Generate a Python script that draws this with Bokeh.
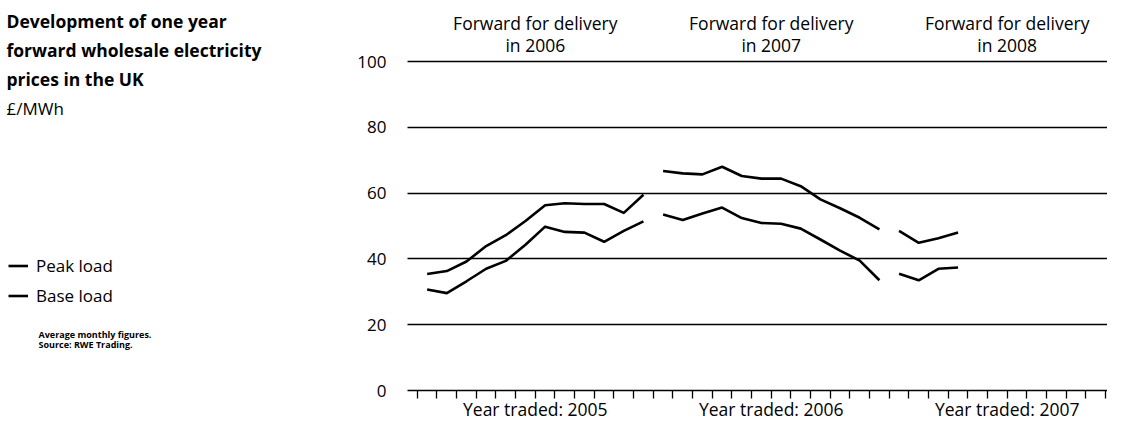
from bokeh.plotting import figure
from bokeh.models import (Range1d, FixedTicker, Legend, LegendItem, LinearAxis, Grid)
from bokeh.embed import file_html
from bokeh.resources import INLINE
from bokeh.core.properties import value

FONT = "Open Sans"

# ---------------- data ----------------
years_traded = ["2005", "2006", "2007"]
delivery_years = ["2006", "2007", "2008"]
y_ticks = [0, 20, 40, 60, 80, 100]

# month index: 0 = January 2005 (year traded)
months_2006 = list(range(0, 12))
peak_2006 = [35.4, 36.3, 39.2, 43.9, 47.2, 51.5, 56.3, 56.9, 56.7, 56.7, 54.0, 59.5]
base_2006 = [30.7, 29.6, 33.2, 37.0, 39.4, 44.3, 49.8, 48.2, 48.0, 45.2, 48.5, 51.4]

months_2007 = list(range(12, 24))
peak_2007 = [66.7, 66.0, 65.7, 68.0, 65.2, 64.4, 64.4, 62.1, 58.1, 55.4, 52.5, 49.0]
base_2007 = [53.5, 51.8, 53.8, 55.6, 52.4, 50.9, 50.7, 49.2, 45.9, 42.5, 39.5, 33.5]

months_2008 = list(range(24, 28))
peak_2008 = [48.5, 44.9, 46.3, 48.0]
base_2008 = [35.5, 33.5, 37.0, 37.4]

title_lines = ["Development of one year", "forward wholesale electricity", "prices in the UK"]
unit_label = "£/MWh"
series_names = ["Peak load", "Base load"]
notes = ["Average monthly figures.", "Source: RWE Trading."]

# ---------------- layout constants (pixels) ----------------
W, H = 1107, 421
CHART_LEFT_PX = 407       # x = -0.5
X_END = 35.1              # at right edge of figure
PPX = (W - CHART_LEFT_PX) / (X_END + 0.5)
AXIS_PX = 390             # y = 0
TOP100_PX = 61            # y = 100
PPY = (AXIS_PX - TOP100_PX) / 100.0


def x_at(px):
    return -0.5 + (px - CHART_LEFT_PX) / PPX


def y_at(px):
    return (AXIS_PX - px) / PPY


p = figure(width=W, height=H,
           x_range=Range1d(x_at(0), X_END), y_range=Range1d(y_at(H), y_at(0)),
           output_backend="svg", toolbar_location=None,
           x_axis_location=None, y_axis_location=None, min_border=0)
p.outline_line_color = None
p.grid.visible = False
p.background_fill_color = "white"
p.border_fill_color = "white"

# ---------------- axes ----------------
yaxis = LinearAxis(fixed_location=-0.5, ticker=FixedTicker(ticks=y_ticks))
yaxis.axis_line_color = None
yaxis.major_tick_line_color = None
yaxis.minor_tick_line_color = None
yaxis.major_label_text_font = FONT
yaxis.major_label_text_font_size = "17px"
yaxis.major_label_text_color = "black"
yaxis.major_label_standoff = 15
p.add_layout(yaxis, "left")

month_ticks = list(range(36))
overrides = {m: "" for m in month_ticks}
for i, yr in enumerate(years_traded):
    overrides[12 * i + 6] = "Year traded: " + yr
xaxis = LinearAxis(fixed_location=0, ticker=FixedTicker(ticks=month_ticks), bounds=(-0.5, X_END))
xaxis.major_label_overrides = overrides
xaxis.axis_line_color = "black"
xaxis.axis_line_width = 1.5
xaxis.major_tick_line_color = "black"
xaxis.major_tick_line_width = 1.3
xaxis.major_tick_out = 8
xaxis.major_tick_in = 0
xaxis.minor_tick_line_color = None
xaxis.major_label_standoff = -2
xaxis.major_label_text_font = FONT
xaxis.major_label_text_font_size = "17.5px"
xaxis.major_label_text_color = "black"
p.add_layout(xaxis, "below")

grid_ticks = [t for t in y_ticks if t > 0]
if "cross_bounds" in Grid.properties():
    ygrid = Grid(dimension=1, ticker=FixedTicker(ticks=grid_ticks),
                 grid_line_color="black", grid_line_width=1.5)
    ygrid.cross_bounds = (-0.5, X_END)
    p.add_layout(ygrid)
else:
    p.segment(x0=[-0.5] * len(grid_ticks), x1=[X_END] * len(grid_ticks),
              y0=grid_ticks, y1=grid_ticks, line_color="black", line_width=1.5)

# ---------------- data lines ----------------
renderers = []
for months, peak, base in [(months_2006, peak_2006, base_2006),
                           (months_2007, peak_2007, base_2007),
                           (months_2008, peak_2008, base_2008)]:
    xs = [m + 0.5 for m in months]
    rp = p.line(x=xs, y=peak, line_color="black", line_width=2.6, line_join="round")
    rb = p.line(x=xs, y=base, line_color="black", line_width=2.6, line_join="round")
    renderers.append((rp, rb))

# ---------------- column headers ----------------
hx = [12 * i + 6 for i in range(len(delivery_years))]
p.text(x=hx, y=[y_at(22)] * 3, text=["Forward for delivery"] * 3,
       text_font=value(FONT), text_font_size="17.5px", text_color="black",
       text_align="center", text_baseline="alphabetic")
p.text(x=hx, y=[y_at(44)] * 3, text=["in " + d for d in delivery_years],
       text_font=value(FONT), text_font_size="17.5px", text_color="black",
       text_align="center", text_baseline="alphabetic")

# ---------------- left block: title, unit, notes ----------------
p.text(x=[x_at(6)] * 3, y=[y_at(20), y_at(49), y_at(78.5)], text=title_lines,
       text_font=value(FONT), text_font_style="bold", text_font_size="17.5px",
       text_color="black", text_baseline="alphabetic", text_align="left")
p.text(x=[x_at(6)], y=[y_at(108)], text=[unit_label],
       text_font=value(FONT), text_font_size="17px",
       text_color="black", text_baseline="alphabetic", text_align="left")
p.text(x=[x_at(38)] * 2, y=[y_at(334), y_at(344)], text=notes,
       text_font=value(FONT), text_font_style="bold", text_font_size="9px",
       text_color="black", text_baseline="alphabetic", text_align="left")

legend = Legend(items=[LegendItem(label=series_names[0], renderers=[renderers[0][0]]),
                       LegendItem(label=series_names[1], renderers=[renderers[0][1]])],
                location=(8, H - 306.5), orientation="vertical",
                padding=0, margin=0, spacing=7, label_standoff=8,
                glyph_width=20, glyph_height=23, label_height=23,
                border_line_color=None, background_fill_alpha=0,
                label_text_font=FONT, label_text_font_size="17px",
                label_text_color="black")
p.add_layout(legend)

open("out.html", "w").write(file_html(p, INLINE))
